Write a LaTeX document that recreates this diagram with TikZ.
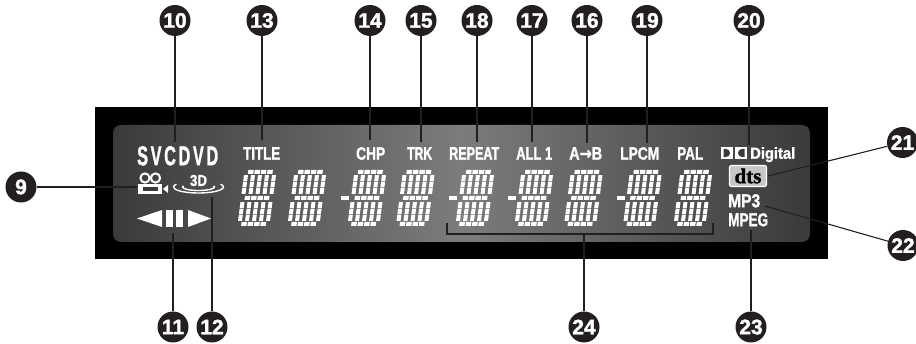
\documentclass[tikz,border=0pt]{standalone}
\usepackage{fontspec}
\setmainfont{Liberation Sans}
\newfontfamily\heavyfont[FakeBold=1.6]{Liberation Sans}
\newfontfamily\dtsfont[FakeBold=1.5]{Liberation Serif}
\newfontfamily\arrowfont[FakeBold=1]{DejaVu Sans}
\definecolor{inkblack}{HTML}{231F20}
\definecolor{paneledge}{HTML}{3A3A3A}
\definecolor{panelmid}{HTML}{7C7C7C}
\newcommand{\lcd}[3]{\resizebox{#1pt}{#2pt}{\heavyfont\bfseries #3}}
\begin{document}
\begin{tikzpicture}[x=1pt,y=-1pt,
  callout/.style={fill=inkblack,circle,inner sep=0pt,minimum size=31pt,text=white,font=\heavyfont\bfseries\fontsize{21}{21}\selectfont},
  leader/.style={draw=inkblack,line width=1.1pt},
  lcdtext/.style={text=white,inner sep=0pt},
  ring/.style={draw=white,line width=1.4pt}]
  \useasboundingbox (0,0) rectangle (916,344);
  \fill[black] (95,107) rectangle (828,259);
  \shade[left color=paneledge,right color=paneledge,middle color=panelmid,rounded corners=8pt] (113,125) rectangle (810,242);
  % segmented digits
  \foreach \x in {257,307,367,415.5,475,534,583.5,642.5,693}{
    \begin{scope}[shift={(\x,198)},xslant=.13]
      \foreach \u in {-14,-7,0,7,14}
        \foreach \v in {-20,-13.5,-7,7,13.5,20}
          \fill[white] (\u-2,\v-2.9) rectangle ++(4,5.8);
      \foreach \u in {-9.6,-3.2,3.2,9.6}
        \foreach \v in {-26,0,26}
          \fill[white] (\u-2.7,\v-2) rectangle ++(5.4,4);
    \end{scope}
  }
  \foreach \x in {367,475,534,642.5}{
    \fill[white] (\x-26,196) rectangle ++(8,4.5); % minus sign
  }
  % labels on the panel
  \node[lcdtext,anchor=north west] (svcdvd) at (137,146) {\lcd{81}{19}{S\,V\,C\,D\,V\,D}};
  \foreach \x/\w/\t/\n in {243/37/TITLE/title,356/29/CHP/chp,407/25/TRK/trk,449/50/REPEAT/repeat,516/36/ALL 1/allone,569/33/A{\arrowfont\bfseries→}B/ab,620/39/LPCM/lpcm,677/26/PAL/pal}{
    \node[lcdtext,anchor=north west] (\n) at (\x,147) {\lcd{\w}{12.5}{\t}};
  }
  \node[lcdtext,anchor=north west] (mpthree) at (728,194) {\lcd{32}{13}{MP3}};
  \node[lcdtext,anchor=north west] (mpeg) at (728,213) {\lcd{40}{13}{MPEG}};
  \node[lcdtext,anchor=north west] (digital) at (750,147) {\lcd{45}{11.5}{Digital}};
  % double D logo
  \fill[white] (721,147) rectangle (733,159);
  \fill[white] (735,147) rectangle (747,159);
  \fill[paneledge] (723.5,149) -- (726,149) arc[start angle=-90,end angle=90,radius=4] -- (723.5,157) -- cycle;
  \fill[paneledge] (744.5,149) -- (742,149) arc[start angle=-90,end angle=-270,radius=4] -- (744.5,157) -- cycle;
  % dts badge
  \node[draw=white,line width=1.2pt,fill=black!22,rounded corners=2pt,minimum width=37pt,minimum height=21pt,inner sep=0pt,text=black,font=\dtsfont\bfseries\fontsize{21}{21}\selectfont] (dts) at (748,176) {dts};
  % camera
  \draw[white,line width=2pt] (145,178) circle[radius=4.6] (155.5,178) circle[radius=4.6];
  \fill[white] (138,184) rectangle (162,194.5);
  \fill[paneledge] (142.5,187.5) rectangle (158,191);
  \fill[white] (163,189) -- (168,185) -- (168,193) -- cycle;
  \coordinate (camera) at (137,187);
  % 3D rings
  \draw[ring] (198.5,187) ++(208:25 and 6) arc[start angle=208,end angle=-28,x radius=25,y radius=6];
  \draw[ring] (198.5,187) ++(200:16 and 3.5) arc[start angle=200,end angle=-20,x radius=16,y radius=3.5];
  \node[lcdtext] (threed) at (198.5,180.5) {\lcd{17}{11}{3D}};
  % transport marks
  \fill[white] (137,218.5) -- (162,210) -- (162,227) -- cycle;
  \fill[white] (166,210) rectangle (173,227);
  \fill[white] (176,210) rectangle (183,227);
  \fill[white] (211,218.5) -- (188,210) -- (188,227) -- cycle;
  % callouts above the panel
  \foreach \x/\n/\e in {175/10/142,262/13/140,370/14/140,421/15/142,477/18/142,532/17/142,587/16/143,647/19/143,749/20/145}{
    \node[callout] (c\n) at (\x,20.5) {\n};
    \coordinate (e\n) at (\x,\e);
    \draw[leader] (c\n) -- (e\n);
  }
  % callouts below the panel
  \foreach \x/\n/\e in {173/11/233,212/12/197,751/23/230}{
    \node[callout] (c\n) at (\x,327) {\n};
    \coordinate (e\n) at (\x,\e);
    \draw[leader] (c\n) -- (e\n);
  }
  \node[callout] (c9) at (21,187) {9};
  \draw[leader] (c9) -- (camera);
  \node[callout] (c21) at (902.5,142.5) {21};
  \coordinate (e21) at (768,176);
  \draw[leader] (c21) -- (e21);
  \node[callout] (c22) at (903,245.5) {22};
  \coordinate (e22) at (765,206);
  \draw[leader] (c22) -- (e22);
  % bracket under the digits
  \node[callout] (c24) at (584,327) {24};
  \coordinate (e24) at (584,234);
  \draw[leader] (447,223) |- (713,234) -- (713,223);
  \draw[leader] (c24) -- (e24);
\end{tikzpicture}
\end{document}
